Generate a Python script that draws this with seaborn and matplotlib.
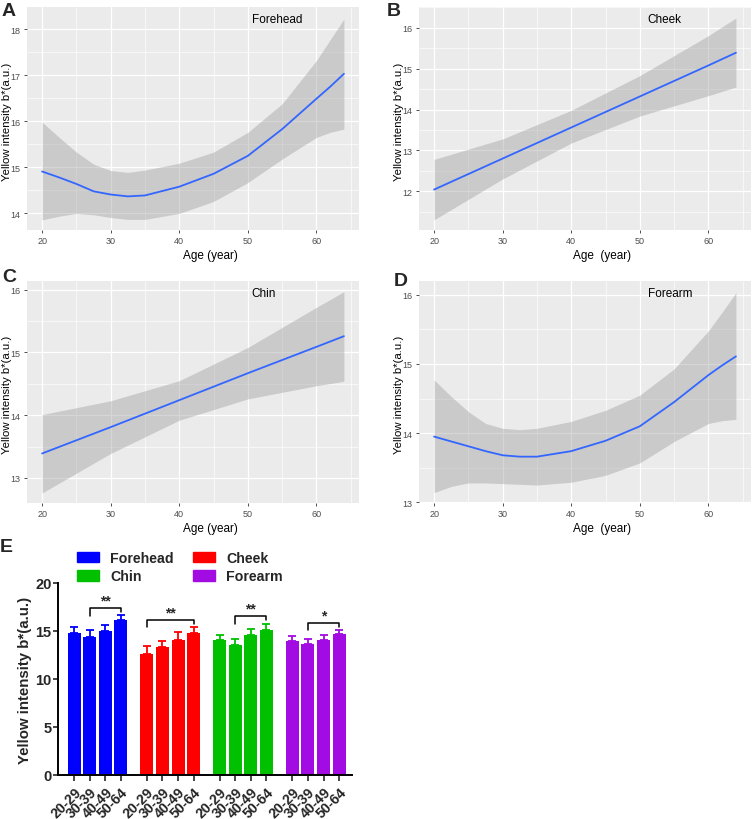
import numpy as np
import pandas as pd
import matplotlib
matplotlib.use("Agg")
import matplotlib.pyplot as plt
from matplotlib.patches import Patch
from matplotlib.ticker import MultipleLocator
import seaborn as sns

sns.set_theme(style="white")
plt.rcParams['font.family'] = ['Liberation Sans', 'DejaVu Sans']

# ---------------- data: smooth fits (panels A-D) ----------------
ages_A = [20, 22.5, 25, 27.5, 30, 32.5, 35, 40, 45, 50, 55, 60, 62, 64]
fit_A = [14.91, 14.78, 14.64, 14.48, 14.41, 14.37, 14.39, 14.58, 14.86, 15.25, 15.83, 16.49, 16.75, 17.03]
lo_A = [13.86, 13.94, 14.00, 13.97, 13.91, 13.87, 13.87, 14.00, 14.26, 14.67, 15.18, 15.65, 15.76, 15.83]
hi_A = [15.98, 15.65, 15.33, 15.07, 14.93, 14.89, 14.94, 15.09, 15.33, 15.76, 16.38, 17.32, 17.77, 18.22]

ages_B = [20, 30, 40, 50, 60, 64]
fit_B = [12.04, 12.80, 13.56, 14.32, 15.08, 15.39]
lo_B = [11.30, 12.30, 13.18, 13.84, 14.34, 14.55]
hi_B = [12.78, 13.28, 13.98, 14.83, 15.81, 16.24]

ages_C = [20, 30, 40, 50, 60, 64]
fit_C = [13.39, 13.81, 14.24, 14.67, 15.09, 15.26]
lo_C = [12.76, 13.39, 13.92, 14.26, 14.47, 14.54]
hi_C = [14.01, 14.23, 14.55, 15.08, 15.72, 15.97]

ages_D = [20, 22.5, 25, 27.5, 30, 32.5, 35, 40, 45, 50, 55, 60, 62, 64]
fit_D = [13.95, 13.88, 13.81, 13.74, 13.68, 13.66, 13.66, 13.74, 13.89, 14.10, 14.45, 14.84, 14.98, 15.11]
lo_D = [13.14, 13.23, 13.28, 13.28, 13.27, 13.26, 13.25, 13.29, 13.39, 13.57, 13.88, 14.14, 14.18, 14.20]
hi_D = [14.77, 14.53, 14.31, 14.14, 14.07, 14.05, 14.07, 14.17, 14.33, 14.55, 14.93, 15.48, 15.75, 16.03]

# ---------------- data: bar chart (panel E) ----------------
regions = ["Forehead", "Cheek", "Chin", "Forearm"]
age_groups = ["20-29", "30-39", "40-49", "50-64"]
means_forehead = [14.79, 14.41, 15.00, 16.11]
means_cheek = [12.57, 13.37, 14.06, 14.76]
means_chin = [14.03, 13.54, 14.62, 15.14]
means_forearm = [13.99, 13.61, 14.03, 14.69]
err_forehead = [0.66, 0.69, 0.63, 0.59]
err_cheek = [0.83, 0.55, 0.80, 0.62]
err_chin = [0.52, 0.59, 0.62, 0.55]
err_forearm = [0.52, 0.52, 0.59, 0.45]
sig_labels = ["**", "**", "**", "*"]
sig_from = [1, 0, 1, 1]          # age group index where each bracket starts (ends at 50-64)
sig_height = [17.36, 16.18, 16.53, 15.83]

colors = {"Forehead": "#0000FF", "Cheek": "#FF0000", "Chin": "#00C000", "Forearm": "#A20BE2"}

W, H = 753, 820
fig = plt.figure(figsize=(W / 100, H / 100), dpi=100)


def rect(L, T, R, B):
    return [L / W, 1 - B / H, (R - L) / W, (B - T) / H]


def gg_panel(r, ages, fit, lo, hi, ylim, yticks, title, xlabel, letter, lpos):
    ax = fig.add_axes(rect(*r))
    ax.set_facecolor("#EBEBEB")
    ax.fill_between(ages, lo, hi, color="#999999", alpha=0.4, lw=0)
    sns.lineplot(x=ages, y=fit, ax=ax, color="#3366FF", lw=1.3)
    ax.set_xlim(17.8, 66.2)
    ax.set_ylim(*ylim)
    ax.set_xticks([20, 30, 40, 50, 60])
    ax.set_yticks(yticks)
    ax.xaxis.set_minor_locator(MultipleLocator(5))
    ax.yaxis.set_minor_locator(MultipleLocator(0.5))
    ax.grid(True, which="major", color="white", lw=0.9)
    ax.grid(True, which="minor", color="white", lw=0.45)
    ax.set_axisbelow(True)
    for s in ax.spines.values():
        s.set_visible(False)
    ax.tick_params(axis="both", which="major", length=2.5, width=0.6, color="#333333",
                   labelsize=6.5, labelcolor="#4D4D4D", pad=2, bottom=True, left=True)
    ax.tick_params(axis="both", which="minor", length=0)
    ax.set_xlabel(xlabel, fontsize=8.5, color="black")
    ax.set_ylabel("Yellow intensity b*(a.u.)", fontsize=8.2, color="black")
    ax.xaxis.set_label_coords(0.552, -0.085)
    ax.yaxis.set_label_coords(-0.046, 0.49)
    ax.text(title[1], title[2], title[0], transform=ax.transAxes, fontsize=8.5,
            ha="center", va="center", color="black")
    fig.text(lpos[0] / W, 1 - lpos[1] / H, letter, fontsize=14, fontweight="bold",
             ha="center", va="center")
    return ax


gg_panel((27, 8, 359, 231), ages_A, fit_A, lo_A, hi_A, (13.64, 18.48), [14, 15, 16, 17, 18],
         ("Forehead", 0.753, 0.946), "Age (year)", "A", (9, 12))
gg_panel((419, 8, 751, 231), ages_B, fit_B, lo_B, hi_B, (11.05, 16.51), [12, 13, 14, 15, 16],
         ("Cheek", 0.738, 0.946), "Age  (year)", "B", (394, 11))
gg_panel((27, 282, 359, 504), ages_C, fit_C, lo_C, hi_C, (12.6, 16.14), [13, 14, 15, 16],
         ("Chin", 0.714, 0.946), "Age (year)", "C", (9, 277))
gg_panel((419, 282, 751, 504), ages_D, fit_D, lo_D, hi_D, (12.99, 16.2), [13, 14, 15, 16],
         ("Forearm", 0.756, 0.946), "Age  (year)", "D", (401, 281))

# ---------------- panel E ----------------
axE = fig.add_axes(rect(58, 584, 352, 776))
group_gap = 4.66
all_means = [means_forehead, means_cheek, means_chin, means_forearm]
all_errs = [err_forehead, err_cheek, err_chin, err_forearm]
rows = []
for gi, reg in enumerate(regions):
    for j, ag in enumerate(age_groups):
        rows.append({"pos": gi * group_gap + j, "region": reg, "age": ag,
                     "mean": all_means[gi][j], "err": all_errs[gi][j]})
df = pd.DataFrame(rows)

sns.barplot(data=df, x="pos", y="mean", hue="region", palette=colors, native_scale=True,
            dodge=False, width=0.83, errorbar=None, legend=False, ax=axE, linewidth=0,
            saturation=1)
for reg in regions:
    sub = df[df.region == reg]
    axE.errorbar(sub["pos"], sub["mean"], yerr=[np.zeros(len(sub)), sub["err"]], fmt="none",
                 ecolor=colors[reg], elinewidth=1.3, capsize=2.6, capthick=1.3)

# significance brackets
for gi, reg in enumerate(regions):
    sub = df[df.region == reg].reset_index(drop=True)
    i0 = sig_from[gi]
    x0, x1 = sub.loc[i0, "pos"], sub.loc[3, "pos"]
    yb = sig_height[gi]
    axE.plot([x0, x0, x1, x1], [yb - 0.75, yb, yb, yb - 0.42], color="black", lw=1.1)
    axE.text((x0 + x1) / 2, yb + 0.05, sig_labels[gi], ha="center", va="bottom",
             fontsize=10, fontweight="bold")

axE.set_xlim(-1.03, 17.8)
axE.set_ylim(0, 20)
axE.set_yticks([0, 5, 10, 15, 20])
axE.set_xticks(df["pos"])
axE.set_xticklabels(df["age"], rotation=45, ha="right", rotation_mode="anchor",
                    fontsize=10.2, fontweight="bold")
for lab in axE.get_yticklabels():
    lab.set_fontweight("bold")
axE.tick_params(axis="y", labelsize=10.5, length=3.5, width=1.2, direction="out", pad=1, left=True)
axE.tick_params(axis="x", length=4, width=1.2, direction="out", pad=3, bottom=True)
axE.set_xlabel("")
axE.set_ylabel("Yellow intensity b*(a.u.)", fontsize=10.8, fontweight="bold")
axE.yaxis.set_label_coords((32 - 58) / 294, 0.5)
for s in ["top", "right"]:
    axE.spines[s].set_visible(False)
for s in ["left", "bottom"]:
    axE.spines[s].set_linewidth(1.4)
    axE.spines[s].set_color("black")
axE.set_facecolor("white")
axE.grid(False)

handles = [Patch(color=colors["Forehead"]), Patch(color=colors["Chin"]),
           Patch(color=colors["Cheek"]), Patch(color=colors["Forearm"])]
labels = ["Forehead", "Chin", "Cheek", "Forearm"]
fig.legend(handles, labels, loc="upper left", bbox_to_anchor=(77 / W, 1 - 552 / H), ncol=2,
           frameon=False, prop={"weight": "bold", "size": 10.2}, handlelength=1.55,
           handleheight=0.8, handletextpad=0.8, columnspacing=1.35, labelspacing=0.3,
           borderpad=0, borderaxespad=0)
fig.text(6 / W, 1 - 548 / H, "E", fontsize=14, fontweight="bold", ha="center", va="center")

fig.savefig("out.png", dpi=100)
